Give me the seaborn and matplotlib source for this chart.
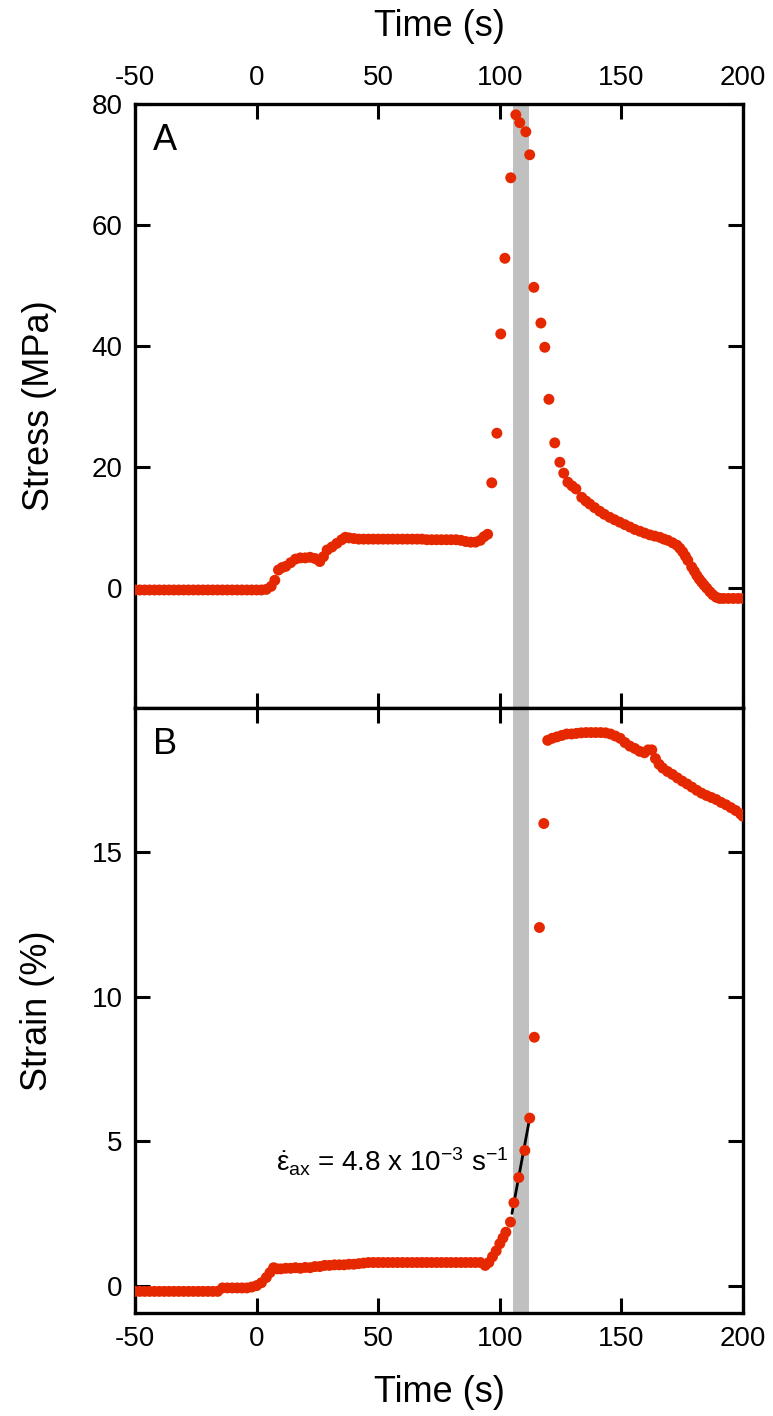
import matplotlib
matplotlib.use("Agg")
import matplotlib.pyplot as plt
import seaborn as sns

# Panel A: stress vs time
time_a = [-50, -48, -46, -44, -42, -40, -38, -36, -34, -32, -30, -28, -26, -24,
          -22, -20, -18, -16, -14, -12, -10, -8, -6, -4, -2, 0, 2,
          4, 6, 7.5, 9, 10.5, 12, 14, 16, 18, 20, 22, 24, 26, 27.5, 29, 31, 33,
          35, 36.5, 38, 40, 42, 44, 46, 48, 50, 52, 54, 56, 58, 60, 62, 64, 66,
          68, 70, 72, 74, 76, 78, 80, 82, 84, 86, 88, 90, 92, 93.5, 95,
          96.7, 98.8, 100.4, 102.1, 104.5, 106.6, 108.2, 110.7, 112.3, 114,
          116.9, 118.5, 120.2, 122.6, 124.7, 126.3, 128, 129.7, 131.3, 133.7,
          135.4, 137, 139, 141.1, 143, 145.2, 147.2, 149.3, 151.4, 153.5,
          155.5, 157.6, 159.6, 161.7, 163.7, 165.8, 167.5, 169.1, 171, 172.8,
          174, 175.2, 176.3, 177.3, 178.9, 180, 181, 182, 183, 184, 185.1,
          186.4, 187.6, 189, 190.4, 192, 194, 196, 198, 200]
stress = [-0.3, -0.3, -0.3, -0.3, -0.3, -0.3, -0.3, -0.3, -0.3, -0.3, -0.3, -0.3,
          -0.3, -0.3, -0.3, -0.3, -0.3, -0.3, -0.3, -0.3, -0.3, -0.3, -0.3, -0.3,
          -0.3, -0.3, -0.3,
          -0.2, 0.3, 1.3, 3.0, 3.4, 3.6, 4.2, 4.8, 5.0, 5.0, 5.1, 4.9, 4.4, 5.2,
          6.3, 6.8, 7.4, 8.0, 8.4, 8.3, 8.2, 8.1, 8.1, 8.1, 8.1, 8.1, 8.1, 8.1,
          8.1, 8.1, 8.1, 8.1, 8.1, 8.1, 8.1, 8.0, 8.0, 8.0, 8.0, 8.0, 8.0, 8.0,
          7.9, 7.7, 7.6, 7.6, 7.9, 8.5, 8.9,
          17.4, 25.6, 42.0, 54.5, 67.8, 78.2, 76.9, 75.4, 71.6, 49.7,
          43.8, 39.8, 31.2, 24.0, 20.8, 19.0, 17.5, 16.9, 16.4, 15.0,
          14.4, 13.9, 13.3, 12.7, 12.2, 11.7, 11.3, 10.9, 10.5, 10.1,
          9.7, 9.4, 9.1, 8.8, 8.6, 8.4, 8.1, 7.9, 7.5, 7.1,
          6.6, 6.0, 5.3, 4.6, 3.5, 2.8, 2.1, 1.5, 1.0, 0.5, 0.0,
          -0.6, -1.1, -1.5, -1.7, -1.7, -1.7, -1.7, -1.7, -1.7]

# Panel B: strain vs time
time_b = [-50, -48, -46, -44, -42, -40, -38, -36, -34, -32, -30, -28, -26, -24,
          -22, -20, -18, -16, -14, -12, -10, -8, -6, -4, -2, 0, 2, 4, 5.5, 7,
          8.5, 10, 12, 14, 16, 18, 20, 22, 24, 26, 28, 30, 32, 34, 36, 38, 40,
          42, 44, 46, 48, 50, 52, 54, 56, 58, 60, 62, 64, 66, 68, 70, 72, 74,
          76, 78, 80, 82, 84, 86, 88, 90, 92, 94, 95.5, 97, 98.5, 100, 101.3,
          102.5, 104.4, 105.8, 107.8, 110.3, 112.3, 114.2, 116.3, 118.1, 119.7,
          121.5, 123.5, 125.5, 127.5, 129.5, 131.5, 133.5, 135.5, 137.5, 139.5,
          141.5, 143.5, 145.5, 147.5, 149.5, 151.5, 153.5, 155.5, 157.5, 159.5,
          161, 162.5, 164, 165.5, 167, 169, 171, 173, 175, 177, 179, 181, 183,
          185, 187, 189, 191, 193, 195, 197, 199, 200]
strain = [-0.2, -0.2, -0.2, -0.2, -0.2, -0.2, -0.2, -0.2, -0.2, -0.2, -0.2, -0.2,
          -0.2, -0.2, -0.2, -0.2, -0.2, -0.2, -0.08, -0.08, -0.08, -0.08, -0.08,
          -0.08, -0.05, 0.0, 0.1, 0.28, 0.45, 0.62,
          0.58, 0.58, 0.6, 0.6, 0.62, 0.6, 0.63, 0.62, 0.66, 0.66, 0.7, 0.7,
          0.72, 0.72, 0.72, 0.74, 0.74, 0.76, 0.78, 0.8, 0.8, 0.8, 0.8, 0.8,
          0.8, 0.8, 0.8, 0.8, 0.8, 0.8, 0.8, 0.8, 0.8, 0.8, 0.8, 0.8, 0.8, 0.8,
          0.8, 0.8, 0.8, 0.8, 0.8, 0.7, 0.8, 1.0, 1.2, 1.45, 1.65,
          1.85, 2.2, 2.87, 3.74, 4.68, 5.8, 8.6, 12.4, 16.0, 18.88,
          18.95, 19.0, 19.05, 19.1, 19.1, 19.12, 19.14, 19.15, 19.15, 19.15,
          19.15, 19.14, 19.1, 19.03, 18.95, 18.8, 18.68, 18.6, 18.5, 18.45,
          18.55, 18.55, 18.25, 18.05, 17.92, 17.8, 17.7, 17.58, 17.47, 17.37,
          17.26, 17.15, 17.05, 16.97, 16.9, 16.83, 16.73, 16.65, 16.55, 16.45,
          16.33, 16.25]

# linear fit of the strain rate
fit_time = [105.0, 112.3]
fit_strain = [2.5, 5.8]

band_start, band_end = 105.5, 112.0
x_ticks = [-50, 0, 50, 100, 150, 200]
stress_ticks = [0, 20, 40, 60, 80]
strain_ticks = [0, 5, 10, 15]

red = "#e62800"
grey = "#c0c0c0"

sns.set_style("ticks")
plt.rcParams["font.family"] = ["Liberation Sans", "DejaVu Sans"]
plt.rcParams["mathtext.fontset"] = "custom"
plt.rcParams["mathtext.rm"] = "Liberation Sans"
plt.rcParams["mathtext.it"] = "Liberation Sans"
plt.rcParams["mathtext.bf"] = "Liberation Sans:bold"
plt.rcParams["axes.unicode_minus"] = False
for key in ["text.color", "axes.labelcolor", "axes.edgecolor",
            "xtick.color", "ytick.color"]:
    plt.rcParams[key] = "black"

fig = plt.figure(figsize=(7.73, 14.16), dpi=100)
ax_a = fig.add_axes([0.1746, 0.5, 0.7866, 0.4266])
ax_b = fig.add_axes([0.1746, 0.0727, 0.7866, 0.4273])

for ax in (ax_a, ax_b):
    ax.axvspan(band_start, band_end, color=grey, lw=0, zorder=0)
    ax.set_xlim(-50, 200)
    ax.set_xticks(x_ticks)
    ax.tick_params(direction="in", length=11, width=2.2, top=True, right=True,
                   labelsize=20, pad=9, colors="black")
    for sp in ax.spines.values():
        sp.set_linewidth(2.4)
        sp.set_color("black")
        sp.set_visible(True)

# top panel
sns.scatterplot(x=time_a, y=stress, ax=ax_a, color=red, s=62,
                edgecolor="none", linewidth=0, zorder=3)
ax_a.set_ylim(-19.8, 80)
ax_a.set_yticks(stress_ticks)
ax_a.tick_params(labeltop=True, labelbottom=False)
ax_a.xaxis.set_label_position("top")
ax_a.set_xlabel("Time (s)", fontsize=26)
ax_a.xaxis.set_label_coords(0.5, 1.1275)
ax_a.xaxis.label.set_va("center")
ax_a.set_ylabel("Stress (MPa)", fontsize=26)
ax_a.yaxis.set_label_coords(-0.157, 0.5)
ax_a.yaxis.label.set_va("center")
ax_a.text(0.05, 0.94, "A", transform=ax_a.transAxes, fontsize=26,
          ha="center", va="center")

# bottom panel
sns.lineplot(x=fit_time, y=fit_strain, ax=ax_b, color="black", lw=2, zorder=2)
sns.scatterplot(x=time_b, y=strain, ax=ax_b, color=red, s=62,
                edgecolor="none", linewidth=0, zorder=3)
ax_b.set_ylim(-0.95, 20.0)
ax_b.set_yticks(strain_ticks)
ax_b.tick_params(labeltop=False, labelbottom=True)
ax_b.set_xlabel("Time (s)", fontsize=26)
ax_b.xaxis.set_label_coords(0.5, -0.132)
ax_b.xaxis.label.set_va("center")
ax_b.set_ylabel("Strain (%)", fontsize=26)
ax_b.yaxis.set_label_coords(-0.161, 0.5)
ax_b.yaxis.label.set_va("center")
ax_b.text(0.05, 0.94, "B", transform=ax_b.transAxes, fontsize=26,
          ha="center", va="center")
ax_b.text(8.0, 4.3, r"$\dot{\varepsilon}_{ax}$ = 4.8 x 10$^{-3}$ s$^{-1}$",
          fontsize=20, ha="left", va="center")

fig.savefig("out.png", dpi=100)
